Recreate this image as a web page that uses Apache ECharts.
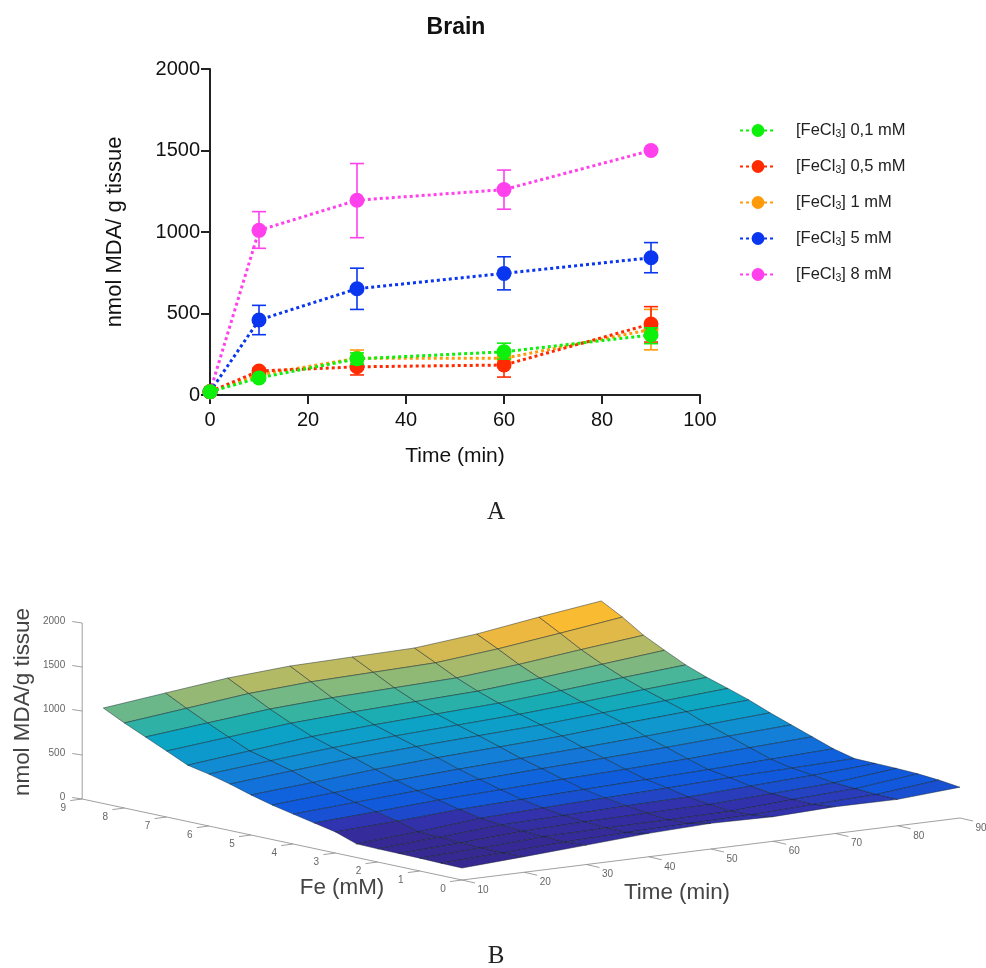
<!DOCTYPE html>
<html><head><meta charset="utf-8">
<style>html,body{margin:0;padding:0;background:#fff}#c{width:986px;height:968px}</style>
<script src="https://cdn.jsdelivr.net/npm/echarts@6/dist/echarts.min.js"></script>
</head><body><div id="c"></div>
<script>
// ---- Panel A data
const timePoints = [0, 10, 30, 60, 90];
const names = ['[FeCl3] 0,1 mM', '[FeCl3] 0,5 mM', '[FeCl3] 1 mM', '[FeCl3] 5 mM', '[FeCl3] 8 mM'];
const colors = ['#0CF00C', '#FF2A00', '#FF9A0A', '#0A36F0', '#FF40EC'];
const mean01 = [20, 105, 222, 265, 368];
const low01  = [20, 95, 188, 220, 315];
const high01 = [20, 115, 258, 318, 412];
const mean05 = [20, 147, 173, 184, 436];
const low05  = [20, 130, 123, 110, 325];
const high05 = [20, 164, 225, 258, 542];
const mean1  = [20, 125, 225, 225, 402];
const low1   = [20, 110, 175, 180, 277];
const high1  = [20, 140, 276, 270, 525];
const mean5  = [20, 460, 652, 746, 842];
const low5   = [20, 370, 525, 645, 750];
const high5  = [20, 550, 778, 848, 935];
const mean8  = [20, 1010, 1195, 1260, 1500];
const low8   = [20, 900, 965, 1140, 1500];
const high8  = [20, 1125, 1420, 1380, 1500];

// ---- Panel B data
const surfTime = [10, 20, 30, 40, 50, 60, 70, 80, 90];
const surfFe = [0, 0.5, 1, 1.5, 2, 2.5, 3, 3.5, 4, 4.5, 5, 5.5, 6, 6.5, 7, 7.5, 8, 8.5];
const surfZ = [
  [136, 177, 221, 266, 292, 279, 305, 300, 350],
  [140, 170, 205, 225, 240, 250, 280, 305, 380],
  [145, 175, 215, 225, 230, 240, 285, 320, 400],
  [148, 180, 225, 245, 255, 265, 300, 335, 410],
  [150, 195, 245, 265, 285, 300, 335, 370, 415],
  [155, 205, 270, 300, 325, 350, 380, 400, 420],
  [240, 275, 320, 345, 370, 395, 420, 450, 480],
  [290, 330, 375, 405, 435, 460, 490, 530, 565],
  [340, 385, 430, 470, 505, 535, 570, 610, 650],
  [392, 445, 495, 535, 570, 605, 645, 690, 735],
  [455, 510, 570, 615, 650, 685, 740, 785, 830],
  [528, 590, 650, 690, 725, 760, 810, 860, 910],
  [590, 655, 715, 760, 795, 830, 880, 935, 985],
  [640, 715, 790, 835, 870, 905, 960, 1020, 1075],
  [750, 820, 890, 930, 960, 990, 1050, 1120, 1190],
  [858, 930, 1000, 1040, 1065, 1090, 1155, 1235, 1310],
  [966, 1045, 1125, 1170, 1190, 1210, 1280, 1370, 1465],
  [1085, 1168, 1250, 1298, 1313, 1327, 1398, 1502, 1597]
];
const zTicks = [0, 500, 1000, 1500, 2000];
const feTicks = [0, 1, 2, 3, 4, 5, 6, 7, 8, 9];
const timeTicks = [10, 20, 30, 40, 50, 60, 70, 80, 90];
const parula = ['#36288F', '#362A98', '#3232AE', '#1258DC', '#0F5CDD', '#126CDB', '#1478D8', '#1288D3', '#0F95CF', '#0D9EC9', '#0BA6C4',
  '#1FAEAE', '#3CB59E', '#62B78E', '#88B97B', '#AABA6A', '#C4BA5C', '#DDB94C', '#F0B83C', '#F8BB33', '#FDBD2C'];

const FONT = '"Liberation Sans", Arial, sans-serif';
const series = [];

// oblique view of the 3-D box, mapped to the hidden pixel-unit axes of grid 1
function view(t, fe, z) {
  return [462 + (t - 10) * 6.225 - fe * 42.2, 880 - (t - 10) * 0.775 - fe * 9 - z * 0.088];
}

// draw order back-to-front: 8 mM first, 0.1 mM last
[[4, mean8, low8, high8], [3, mean5, low5, high5], [2, mean1, low1, high1], [1, mean05, low05, high05], [0, mean01, low01, high01]]
.forEach(function (r, k) {
  const idx = r[0], col = colors[idx];
  series.push({
    type: 'custom', name: 'err' + idx, xAxisIndex: 0, yAxisIndex: 0, z: 3 + k, silent: true, clip: false,
    encode: { x: 0, y: [1, 2] },
    data: timePoints.slice(1).map(function (t, i) { return [t, r[2][i + 1], r[3][i + 1]]; }),
    renderItem: function (params, api) {
      const lo = api.coord([api.value(0), api.value(1)]);
      const hi = api.coord([api.value(0), api.value(2)]);
      const st = { stroke: col, lineWidth: 1.6, fill: null };
      if (Math.abs(lo[1] - hi[1]) < 0.5) return { type: 'group', children: [] };
      return { type: 'group', children: [
        { type: 'line', shape: { x1: lo[0], y1: lo[1], x2: hi[0], y2: hi[1] }, style: st },
        { type: 'line', shape: { x1: lo[0] - 7, y1: lo[1], x2: lo[0] + 7, y2: lo[1] }, style: st },
        { type: 'line', shape: { x1: hi[0] - 7, y1: hi[1], x2: hi[0] + 7, y2: hi[1] }, style: st }
      ] };
    }
  });
  series.push({
    type: 'line', name: names[idx], xAxisIndex: 0, yAxisIndex: 0, z: 3 + k, clip: false,
    data: timePoints.map(function (t, i) { return [t, r[1][i]]; }),
    symbol: 'circle', symbolSize: 15, showSymbol: true,
    itemStyle: { color: col },
    lineStyle: { color: col, width: 3, type: [3, 3] }
  });
});

// surface facets
const facets = [];
for (let f = surfFe.length - 2; f >= 0; f--) {
  for (let t = 0; t < surfTime.length - 1; t++) {
    facets.push([t, f, (surfZ[f][t] + surfZ[f][t + 1] + surfZ[f + 1][t] + surfZ[f + 1][t + 1]) / 4]);
  }
}
series.push({
  type: 'custom', name: 'surface', xAxisIndex: 1, yAxisIndex: 1, z: 2, silent: true, clip: false,
  encode: { x: 0, y: 1 },
  data: facets,
  renderItem: function (params, api) {
    const t = api.value(0), f = api.value(1);
    const pts = [[f, t], [f, t + 1], [f + 1, t + 1], [f + 1, t]].map(function (p) {
      return api.coord(view(surfTime[p[1]], surfFe[p[0]], surfZ[p[0]][p[1]]));
    });
    return { type: 'polygon', shape: { points: pts }, style: { fill: api.visual('color'), stroke: 'rgba(15,30,40,0.65)', lineWidth: 0.7 } };
  }
});

// 3-D box axes, ticks, labels
const GREY = '#888';
const TICKC = '#666';
function seg(api, a, b) {
  const p = api.coord(a), q = api.coord(b);
  return { type: 'line', shape: { x1: p[0], y1: p[1], x2: q[0], y2: q[1] }, style: { stroke: GREY, lineWidth: 0.8, fill: null } };
}
function lab(api, a, s, opt) {
  const p = api.coord(a);
  return Object.assign({ type: 'text', x: p[0], y: p[1], rotation: (opt && opt.rot) || 0,
    style: { text: String(s), fill: (opt && opt.fill) || TICKC, fontSize: (opt && opt.size) || 10, fontFamily: FONT,
      align: (opt && opt.align) || 'center', verticalAlign: 'middle' } });
}
series.push({
  type: 'custom', name: 'box', xAxisIndex: 1, yAxisIndex: 1, z: 1, silent: true, clip: false,
  encode: { x: 0, y: 1 },
  data: [[0, 0]],
  renderItem: function (params, api) {
    const ch = [];
    ch.push(seg(api, view(10, 0, 0), view(90, 0, 0)));
    ch.push(seg(api, view(10, 0, 0), view(10, 9, 0)));
    ch.push(seg(api, view(10, 9, 0), view(10, 9, 2000)));
    zTicks.forEach(function (z) {
      const p = view(10, 9, z);
      ch.push(seg(api, p, [p[0] - 10, p[1] - 1.5]));
      ch.push(lab(api, [p[0] - 17, p[1] - 2], z, { align: 'right' }));
    });
    feTicks.forEach(function (fe) {
      const p = view(10, fe, 0);
      ch.push(seg(api, p, [p[0] - 12, p[1] + 1.6]));
      ch.push(lab(api, [p[0] - 19, p[1] + 9], fe));
    });
    timeTicks.forEach(function (t) {
      const p = view(t, 0, 0);
      ch.push(seg(api, p, [p[0] + 13, p[1] + 3]));
      ch.push(lab(api, [p[0] + 21, p[1] + 10], t));
    });
    ch.push(lab(api, [342, 888], 'Fe (mM)', { size: 22.4, fill: '#444' }));
    ch.push(lab(api, [677, 893], 'Time (min)', { size: 22.4, fill: '#444' }));
    ch.push(lab(api, [23, 702], 'nmol MDA/g tissue', { size: 22.4, fill: '#444', rot: Math.PI / 2 }));
    return { type: 'group', children: ch };
  }
});

const axisLine = { show: true, onZero: false, lineStyle: { color: '#222', width: 2 } };
const axisTick = { show: true, length: 9, lineStyle: { color: '#222', width: 2 } };
const axisLabel = { color: '#111', fontSize: 20, fontFamily: FONT };

const option = {
  animation: false,
  backgroundColor: '#fff',
  title: [
    { text: 'Brain', left: 451, top: 11, textAlign: 'center', textStyle: { fontFamily: FONT, fontWeight: 'bold', fontSize: 23, color: '#111' } },
    { text: 'A', left: 491, top: 495, textAlign: 'center', textStyle: { fontFamily: '"Liberation Serif", serif', fontWeight: 'normal', fontSize: 25, color: '#222' } },
    { text: 'B', left: 491, top: 939, textAlign: 'center', textStyle: { fontFamily: '"Liberation Serif", serif', fontWeight: 'normal', fontSize: 25, color: '#222' } }
  ],
  grid: [
    { left: 210, top: 69, width: 490, height: 326 },
    { left: 0, top: 0, width: 986, height: 968, show: false }
  ],
  xAxis: [
    { type: 'value', gridIndex: 0, min: 0, max: 100, interval: 20, name: 'Time (min)', nameLocation: 'middle', nameGap: 51,
      nameTextStyle: { color: '#111', fontSize: 21, fontFamily: FONT }, axisLine, axisTick,
      axisLabel: Object.assign({ margin: 15 }, axisLabel), splitLine: { show: false } },
    { type: 'value', gridIndex: 1, min: 0, max: 986, show: false, splitLine: { show: false } }
  ],
  yAxis: [
    { type: 'value', gridIndex: 0, min: 0, max: 2000, interval: 500, name: 'nmol MDA/ g tissue', nameLocation: 'middle', nameGap: 84,
      nameTextStyle: { color: '#111', fontSize: 22, fontFamily: FONT }, axisLine, axisTick,
      axisLabel: Object.assign({ margin: 10, formatter: function (v) { return String(v); } }, axisLabel), splitLine: { show: false } },
    { type: 'value', gridIndex: 1, min: 0, max: 968, inverse: true, show: false, splitLine: { show: false } }
  ],
  visualMap: { show: false, type: 'continuous', seriesIndex: 10, dimension: 2, min: 140, max: 1540, inRange: { color: parula } },
  legend: {
    data: names, left: 734, top: 117, orient: 'vertical', itemWidth: 36, itemHeight: 16, itemGap: 18, selectedMode: false,
    formatter: function (n) { return n.replace('3]', '{s|3}]'); },
    textStyle: { color: '#222', fontSize: 16.5, fontFamily: FONT, padding: [0, 0, 0, 15],
      rich: { s: { fontSize: 10.5, fontFamily: FONT, color: '#222', verticalAlign: 'bottom', padding: [8, 0, 0, 0] } } }
  },
  series: series
};
echarts.init(document.getElementById('c')).setOption(option);
</script></body></html>
